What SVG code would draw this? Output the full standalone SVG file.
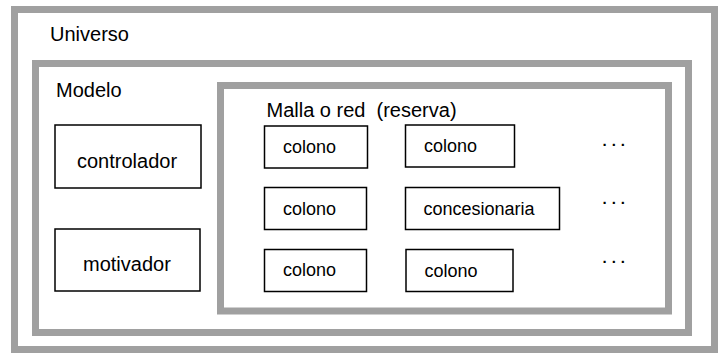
<svg xmlns="http://www.w3.org/2000/svg" width="721" height="356" viewBox="0 0 721 356">
<style>
.frame{fill:none;stroke:#a0a0a0;stroke-width:7}
.box{fill:#fff;stroke:#000;stroke-width:1.5}
text{font-family:"Liberation Sans",Arial,sans-serif;fill:#000}
.lbl{font-size:20px}
.sm{font-size:18px}
.dots{font-size:15px;font-weight:bold}
</style>
<rect width="721" height="356" fill="#fff"/>
<g id="universo">
<rect class="frame" x="14.5" y="9.5" width="700" height="340"/>
<text class="lbl" x="50" y="41">Universo</text>
</g>
<g id="modelo">
<rect class="frame" x="35.5" y="63.5" width="653" height="269"/>
<text class="lbl" x="56" y="97">Modelo</text>
</g>
<g id="malla">
<rect class="frame" x="220.5" y="85.5" width="448" height="225.5"/>
<text class="lbl" x="266.5" y="117" xml:space="preserve">Malla o red  (reserva)</text>
</g>
<g id="controlador">
<rect class="box" x="55" y="125" width="146" height="63"/>
<text class="lbl" x="77" y="168">controlador</text>
</g>
<g id="motivador">
<rect class="box" x="55" y="229" width="145" height="62"/>
<text class="lbl" x="83" y="271">motivador</text>
</g>
<g id="colono1">
<rect class="box" x="264.5" y="126" width="103" height="42"/>
<text class="sm" x="283" y="153">colono</text>
</g>
<g id="colono2">
<rect class="box" x="405.5" y="125" width="109" height="42"/>
<text class="sm" x="424" y="152">colono</text>
</g>
<g id="colono3">
<rect class="box" x="264.5" y="187.5" width="102" height="42"/>
<text class="sm" x="283" y="215">colono</text>
</g>
<g id="concesionaria">
<rect class="box" x="405.5" y="187.5" width="154" height="42"/>
<text class="sm" x="423.5" y="215">concesionaria</text>
</g>
<g id="colono4">
<rect class="box" x="264.5" y="249.5" width="102" height="42"/>
<text class="sm" x="283" y="276">colono</text>
</g>
<g id="colono5">
<rect class="box" x="406" y="249.5" width="107" height="42"/>
<text class="sm" x="424.5" y="277">colono</text>
</g>
<g id="ellipsis">
<text class="dots" x="602.5" y="149.5">· · ·</text>
<text class="dots" x="602.5" y="207.5">· · ·</text>
<text class="dots" x="602.5" y="266.5">· · ·</text>
</g>
<g id="connectors"></g>
</svg>
